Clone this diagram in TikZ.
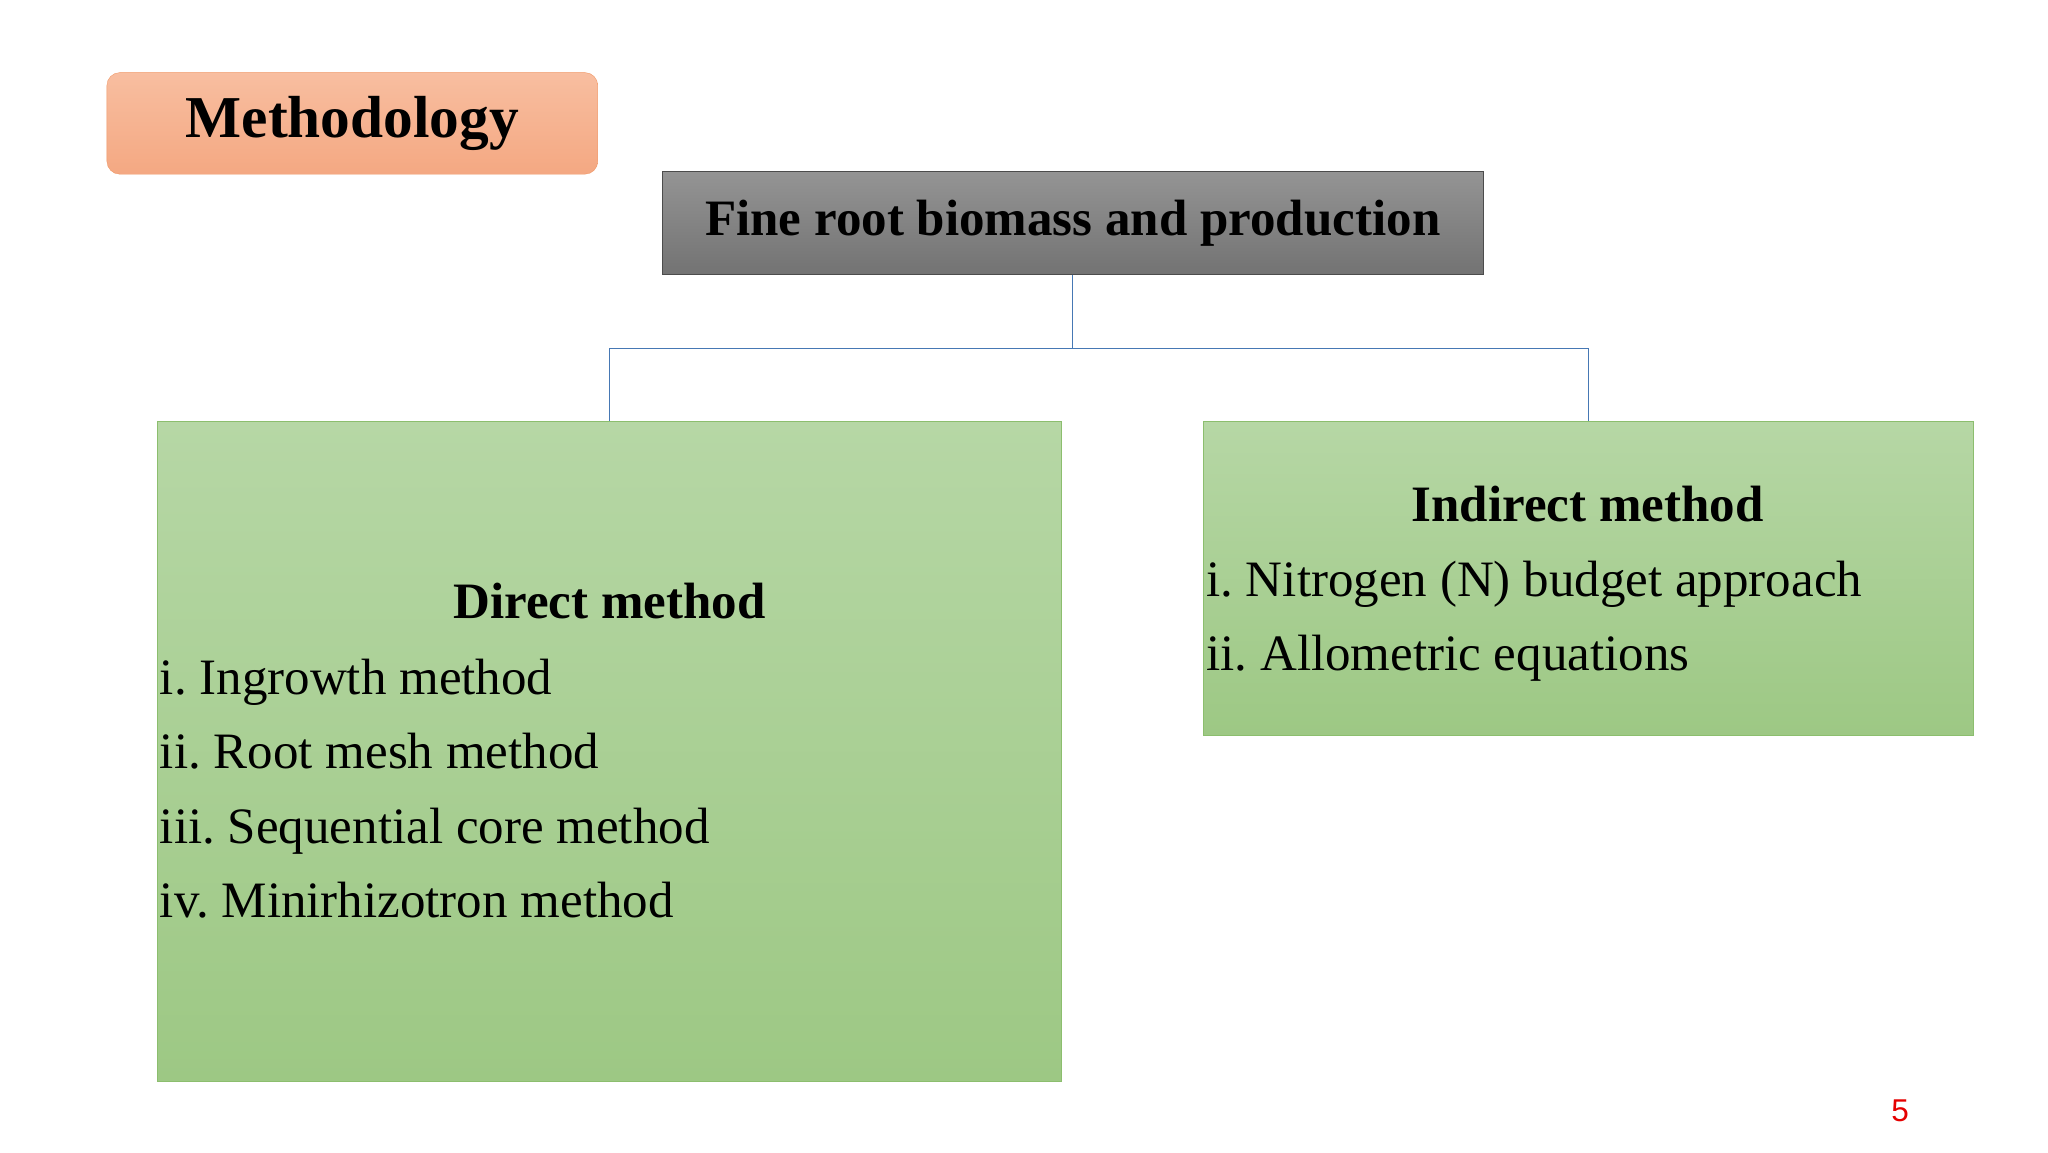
\documentclass[tikz,border=0pt]{standalone}
\usepackage{fontspec}
\setmainfont{Liberation Serif}
\newfontfamily\sansf{Liberation Sans}
\definecolor{gtop}{RGB}{182,215,165}
\definecolor{gbot}{RGB}{157,200,132}
\definecolor{gbrd}{RGB}{140,190,110}
\definecolor{otop}{RGB}{248,190,160}
\definecolor{obot}{RGB}{244,168,130}
\definecolor{obrd}{RGB}{240,150,100}
\definecolor{conc}{RGB}{70,120,180}
\begin{document}
\frenchspacing
\begin{tikzpicture}[x=0.05cm,y=-0.05cm,
  body/.style={font=\fontsize{55}{60}\selectfont, anchor=base west, inner sep=0},
  ttl/.style={font=\fontsize{55}{60}\selectfont\bfseries, anchor=base, inner sep=0},
  gbox/.style={draw=gbrd, top color=gtop, bottom color=gbot, anchor=north west},
  conn/.style={draw=conc, line width=1.2pt}]
\useasboundingbox[fill=white] (0,0) rectangle (1552,873);
\node[draw=obrd, rounded corners=14pt, top color=otop, bottom color=obot, minimum width=372*0.05cm, minimum height=77*0.05cm, font=\fontsize{64}{70}\selectfont\bfseries] (meth) at (267,93.5) {Methodology};
\node[draw=black!70, top color=black!42, bottom color=black!55, minimum width=622*0.05cm, minimum height=78*0.05cm, font=\fontsize{55}{60}\selectfont\bfseries] (top) at (813,169) {Fine root biomass and production};
\node[gbox, minimum width=685*0.05cm, minimum height=500*0.05cm] (left) at (119,319) {};
\node[gbox, minimum width=583*0.05cm, minimum height=238*0.05cm] (right) at (912,319) {};
\coordinate (j) at (813,264);
\draw[conn] (top.south) -- (j) -| (left.north);
\draw[conn] (j) -| (right.north);
\node[ttl] (dt) at (462,469) {Direct method};
\node[body] (l1) at (121,526) {i. Ingrowth method};
\node[body] (l2) at (121,582) {ii. Root mesh method};
\node[body] (l3) at (121,639) {iii. Sequential core method};
\node[body] (l4) at (121,695) {iv. Minirhizotron method};
\node[ttl] (it) at (1203,395) {Indirect method};
\node[body] (r1) at (914,452) {i. Nitrogen (N) budget approach};
\node[body] (r2) at (914,508) {ii. Allometric equations};
\node[font=\fontsize{34}{40}\selectfont\sansf, text=red!90!black, inner sep=0] (pg) at (1440,842) {5};
\end{tikzpicture}
\end{document}
